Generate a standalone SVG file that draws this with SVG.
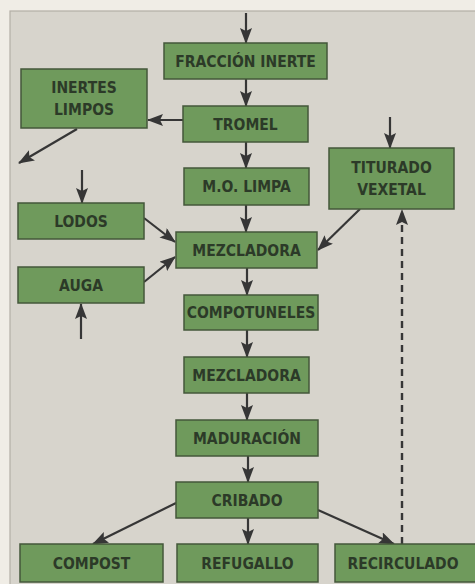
<svg xmlns="http://www.w3.org/2000/svg" width="475" height="584" viewBox="0 0 475 584">
<defs>
<style>
.n rect{fill:#6f9a5c;stroke:#44573a;stroke-width:1.5}
.n text{font-family:"DejaVu Sans",sans-serif;font-stretch:condensed;font-weight:bold;font-size:15.5px;fill:#2c3a28;text-anchor:middle}
.c line{stroke:#363636;stroke-width:2.2;marker-end:url(#ah)}
.c line.d{stroke-dasharray:7 5;stroke-width:2.4}
</style>
<marker id="ah" viewBox="0 0 16 12" refX="15" refY="6" markerWidth="16" markerHeight="12" markerUnits="userSpaceOnUse" orient="auto">
<path d="M0,0 L16,6 L0,12 L3,6 Z" fill="#363636"/>
</marker>
</defs>
<rect x="0" y="0" width="475" height="584" fill="#f0ede6"/>
<rect x="10" y="11" width="470" height="580" fill="#d7d4cc" stroke="#b3afa6" stroke-width="1.2"/>
<g class="c">
<line x1="246" y1="13" x2="246" y2="43"/>
<line x1="246" y1="79" x2="246" y2="106"/>
<line x1="183" y1="120" x2="148" y2="120"/>
<line x1="77" y1="129" x2="19" y2="163"/>
<line x1="246" y1="142" x2="246" y2="168"/>
<line x1="390" y1="117" x2="390" y2="148"/>
<line x1="246" y1="205" x2="246" y2="232"/>
<line x1="82" y1="170" x2="82" y2="203"/>
<line x1="144" y1="218" x2="175" y2="242"/>
<line x1="144" y1="282" x2="175" y2="257"/>
<line x1="81" y1="339" x2="81" y2="304"/>
<line x1="360" y1="209" x2="318" y2="250"/>
<line x1="247" y1="268" x2="247" y2="295"/>
<line x1="247" y1="330" x2="247" y2="357"/>
<line x1="247" y1="393" x2="247" y2="420"/>
<line x1="248" y1="456" x2="248" y2="482"/>
<line x1="248" y1="518" x2="248" y2="544"/>
<line x1="176" y1="503" x2="93" y2="544"/>
<line x1="318" y1="510" x2="394" y2="544"/>
<line class="d" x1="402" y1="544" x2="402" y2="210"/>
</g>
<g id="fraccion" class="n"><rect x="164" y="43" width="163" height="36"/><text x="245.5" y="66.5">FRACCIÓN INERTE</text></g>
<g id="inertes" class="n"><rect x="21" y="69" width="126" height="59"/><text x="84" y="93">INERTES</text><text x="84" y="115">LIMPOS</text></g>
<g id="tromel" class="n"><rect x="183" y="106" width="125" height="36"/><text x="245.5" y="129.5">TROMEL</text></g>
<g id="molimpa" class="n"><rect x="184" y="168" width="125" height="37"/><text x="246.5" y="192">M.O. LIMPA</text></g>
<g id="triturado" class="n"><rect x="329" y="148" width="125" height="61"/><text x="391.5" y="173">TITURADO</text><text x="391.5" y="195">VEXETAL</text></g>
<g id="lodos" class="n"><rect x="18" y="203" width="126" height="36"/><text x="81" y="226.5">LODOS</text></g>
<g id="auga" class="n"><rect x="18" y="267" width="126" height="36"/><text x="81" y="290.5">AUGA</text></g>
<g id="mezcladora1" class="n"><rect x="176" y="232" width="141" height="36"/><text x="246.5" y="255.5">MEZCLADORA</text></g>
<g id="compotuneles" class="n"><rect x="184" y="295" width="134" height="35"/><text x="251" y="318">COMPOTUNELES</text></g>
<g id="mezcladora2" class="n"><rect x="184" y="357" width="125" height="36"/><text x="246.5" y="380.5">MEZCLADORA</text></g>
<g id="maduracion" class="n"><rect x="176" y="420" width="142" height="36"/><text x="247" y="443.5">MADURACIÓN</text></g>
<g id="cribado" class="n"><rect x="176" y="482" width="142" height="36"/><text x="247" y="505.5">CRIBADO</text></g>
<g id="compost" class="n"><rect x="20" y="544" width="143" height="38"/><text x="91.5" y="568.5">COMPOST</text></g>
<g id="refugallo" class="n"><rect x="177" y="544" width="141" height="38"/><text x="247.5" y="568.5">REFUGALLO</text></g>
<g id="recirculado" class="n"><rect x="335" y="544" width="145" height="38"/><text x="403" y="568.5">RECIRCULADO</text></g>
</svg>
